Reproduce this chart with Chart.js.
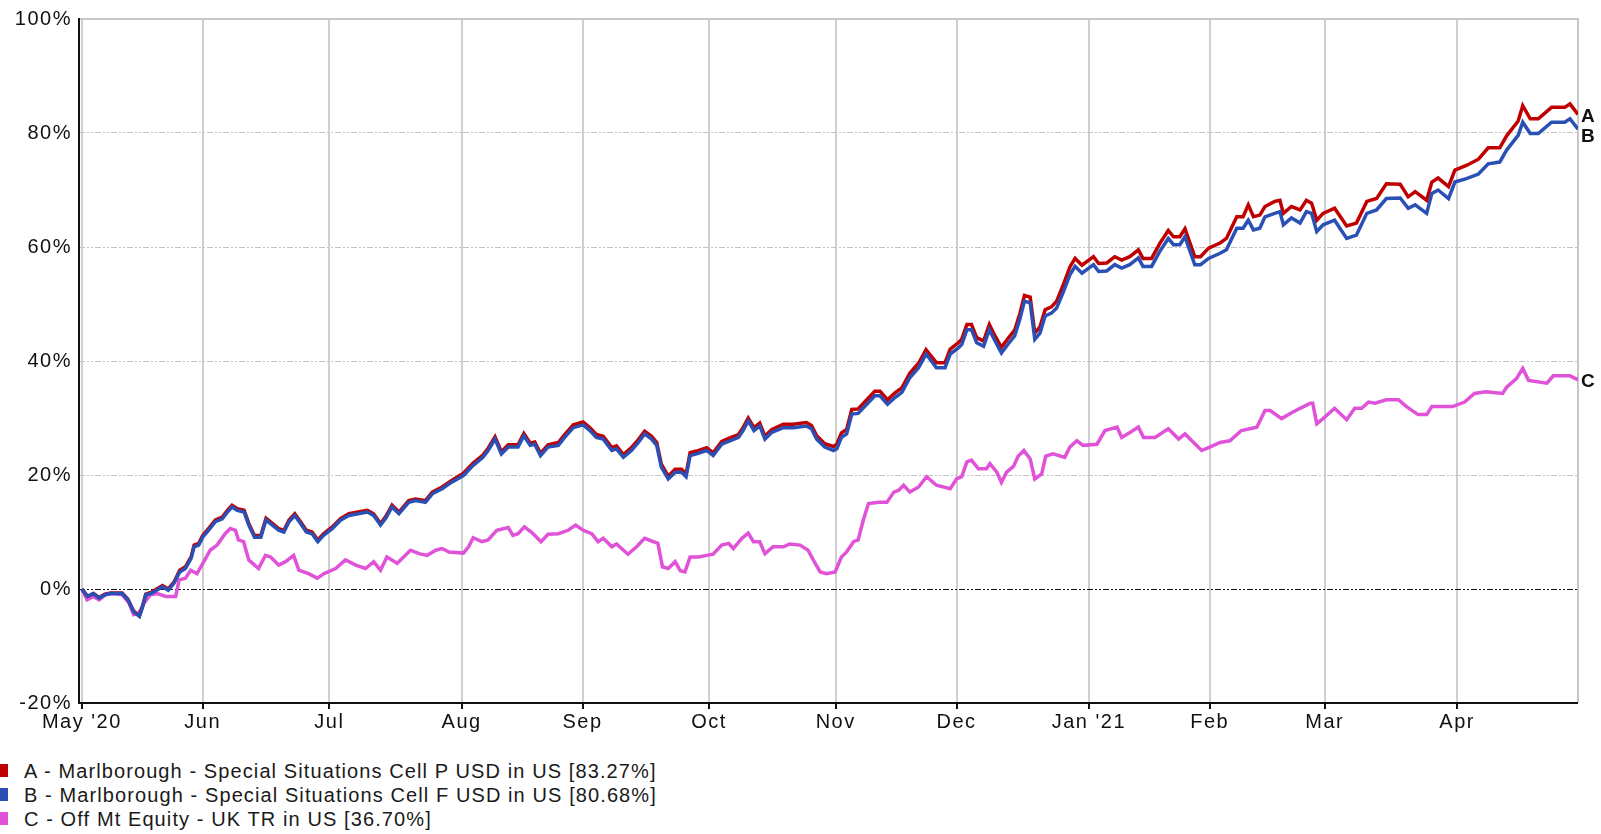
<!DOCTYPE html>
<html>
<head>
<meta charset="utf-8">
<title>Marlborough Special Situations</title>
<script src="https://cdn.jsdelivr.net/npm/chart.js@4.4.0/dist/chart.umd.min.js"></script>
<style>
  html, body { margin: 0; padding: 0; background: #fff; }
  #wrap { position: relative; width: 1601px; height: 834px; overflow: hidden; }
  #chart { position: absolute; left: 0; top: 0; }
  .legend { position: absolute; left: 0; height: 22px; width: 900px; font: 20px "Liberation Sans", Arial, sans-serif; line-height: 22px; letter-spacing: 1.1px; color: #1a1a1a; white-space: nowrap; }
  .legend i { position: absolute; left: -5px; top: 4px; width: 13px; height: 13px; }
  .legend span { position: absolute; left: 24px; top: 0; }
</style>
</head>
<body>
<div id="wrap">
  <canvas id="chart" width="1601" height="740"></canvas>
  <div class="legend" style="top:760px"><i style="background:#c00000"></i><span>A - Marlborough - Special Situations Cell P USD in US [83.27%]</span></div>
  <div class="legend" style="top:784px"><i style="background:#2a50b6"></i><span>B - Marlborough - Special Situations Cell F USD in US [80.68%]</span></div>
  <div class="legend" style="top:808px"><i style="background:#e052d8"></i><span>C - Off Mt Equity - UK TR in US [36.70%]</span></div>
</div>
<script>
// x is the trading-day (weekday) index from 1 May 2020 to 30 Apr 2021
const tickPos = [0, 21, 43, 66, 87, 109, 131, 152, 175, 196, 216, 239];
const tickLabels = ["May '20", "Jun", "Jul", "Aug", "Sep", "Oct", "Nov", "Dec", "Jan '21", "Feb", "Mar", "Apr"];
const seriesTags = ["A", "B", "C"];

// A and B share the same x positions
const abX = [
  0, 1, 2, 3, 4, 5, 7, 8, 9, 10, 10.5, 11.1, 12, 13, 14, 15, 16, 17, 18, 19,
  19.5, 20.3, 21, 22, 23.2, 24.4, 25.3, 26.1, 27, 28.2, 29, 30, 31.1, 32, 33.1, 34.2, 35.1, 36, 37, 38,
  39, 40, 41, 42, 43.5, 45, 46.4, 48, 49.6, 50.7, 51.9, 52.8, 53.9, 55.1, 56.8, 58, 59.7, 60.9, 62.6, 64.2,
  66.3, 68, 69.7, 70.6, 71.8, 72.9, 74.1, 75.8, 76.8, 77.9, 78.7, 79.7, 81, 82.8, 83.9, 85.4, 87.1, 88.3, 89.4, 90.6,
  92.1, 92.9, 94.1, 95.5, 96.7, 97.8, 99, 99.9, 100.7, 101.9, 103.1, 104.2, 105, 105.7, 106.8, 108.6, 109.7, 111.2, 112.6, 114.1,
  114.9, 115.8, 116.8, 117.8, 118.7, 119.9, 121.9, 123.6, 125.9, 126.8, 127.7, 129.1, 130.6,
  131.2, 132, 132.9, 133.8, 134.9, 136.4, 137.8, 138.7, 140, 141.3, 142.5, 143.9, 145.4, 146.7, 147.4, 148.5, 150, 150.9, 152.3, 152.9,
  153.8, 154.6, 155.5, 156.7, 157.7, 158.7, 159.8, 160.9, 162.1, 163, 163.8, 164.8, 165.6, 166.5, 167.4, 168.5, 169.4, 170.6, 171.7, 172.6,
  173.8, 175.8, 176.7, 178.1, 179.5, 180.7, 182.1, 183.6, 184.4, 185.9, 187.3, 188.8, 189.7, 190.8, 191.7, 192.6, 193.4, 194.4, 195.8,
  197.8, 198.9, 200.7, 201.8, 202.7, 203.6, 204.7, 205.6, 207.3, 208.2, 208.8, 210.2, 211.7, 212.8, 213.7, 214.6, 215.7, 217.7, 219.8, 221.5,
  223.3, 225, 226.7, 229.1, 230.5, 231.7, 233.7, 234.6, 235.7, 237.5, 238.6, 240.6, 242.7, 244.4, 246.4, 247.6, 249.6, 250.4, 251.7, 253.1,
  255.4, 257.7, 258.6, 260
];
const aVals = [
  0, -1.3, -0.8, -1.5, -0.9, -0.7, -0.7, -1.8, -3.9, -4.7, -3.2, -0.9, -0.6, 0, 0.6, 0, 1.2, 3.3, 3.9, 5.7,
  7.7, 8.0, 9.4, 10.6, 12.1, 12.6, 13.8, 14.7, 14.1, 13.8, 11.5, 9.4, 9.4, 12.4, 11.5, 10.6, 10.3, 12.1, 13.2, 11.8,
  10.3, 10.0, 8.6, 9.7, 10.9, 12.4, 13.2, 13.5, 13.8, 13.2, 11.5, 12.7, 14.7, 13.5, 15.5, 15.8, 15.5, 17.0, 17.9, 19.0,
  20.3, 22.1, 23.5, 24.7, 26.7, 24.1, 25.3, 25.3, 27.3, 25.6, 25.8, 23.8, 25.3, 25.7, 27.1, 28.8, 29.3, 28.3, 27.1, 26.8,
  24.8, 25.1, 23.6, 24.8, 26.2, 27.7, 26.8, 25.7, 21.9, 19.8, 21.0, 21.0, 20.2, 23.9, 24.2, 24.8, 23.9, 25.9, 26.5, 27.1,
  28.3, 30.0, 28.3, 29.1, 26.8, 28.0, 28.9, 28.9, 29.2, 28.7, 26.9, 25.5, 25.0,
  25.4, 27.4, 28.0, 31.5, 31.6, 33.2, 34.7, 34.7, 33.2, 34.4, 35.3, 37.9, 39.6, 42.0, 41.1, 39.7, 39.7, 42.1, 43.2, 43.8,
  46.4, 46.4, 44.1, 43.5, 46.4, 44.4, 42.4, 43.9, 45.4, 48.3, 51.5, 51.2, 44.9, 46.0, 49.0, 49.5, 50.5, 53.5, 56.5, 58.0,
  56.8, 58.3, 57.1, 57.2, 58.3, 57.7, 58.3, 59.5, 58.0, 58.0, 60.6, 62.9, 61.8, 61.8, 63.2, 60.6, 58.3, 58.3, 59.8,
  60.7, 61.5, 65.3, 65.3, 67.4, 65.3, 65.6, 67.1, 68.0, 68.2, 65.9, 67.1, 66.5, 68.2, 67.7, 64.7, 65.9, 66.8, 63.7, 64.2,
  68.0, 68.5, 71.1, 71.0, 68.8, 69.7, 68.2, 71.4, 72.1, 70.6, 73.5, 74.3, 75.4, 77.4, 77.4, 79.5, 82.1, 84.8, 82.5, 82.5,
  84.5, 84.5, 85.1, 83.27
];
const bVals = [
  0, -1.3, -0.8, -1.6, -1.0, -0.8, -0.8, -1.9, -4.0, -4.8, -3.3, -1.0, -0.8, -0.2, 0.4, -0.2, 1.0, 3.0, 3.6, 5.4,
  7.4, 7.7, 9.1, 10.3, 11.8, 12.3, 13.5, 14.4, 13.8, 13.5, 11.2, 9.1, 9.1, 12.1, 11.2, 10.3, 10.0, 11.8, 12.9, 11.5,
  10.0, 9.7, 8.3, 9.4, 10.6, 12.1, 12.9, 13.2, 13.5, 12.9, 11.2, 12.4, 14.4, 13.2, 15.2, 15.5, 15.2, 16.7, 17.6, 18.7,
  19.9, 21.7, 23.1, 24.3, 26.3, 23.7, 24.9, 24.9, 26.9, 25.2, 25.4, 23.4, 24.9, 25.2, 26.6, 28.3, 28.8, 27.8, 26.6, 26.3,
  24.3, 24.6, 23.1, 24.3, 25.7, 27.2, 26.3, 25.2, 21.4, 19.3, 20.5, 20.5, 19.7, 23.4, 23.7, 24.3, 23.4, 25.4, 26.0, 26.6,
  27.8, 29.5, 27.8, 28.6, 26.3, 27.5, 28.3, 28.3, 28.6, 28.1, 26.3, 24.9, 24.3,
  24.6, 26.6, 27.2, 30.7, 30.8, 32.4, 33.9, 33.9, 32.4, 33.6, 34.5, 37.1, 38.8, 41.2, 40.3, 38.8, 38.8, 41.2, 42.3, 42.9,
  45.5, 45.5, 43.2, 42.6, 45.5, 43.5, 41.4, 42.9, 44.4, 47.3, 50.5, 50.2, 43.8, 44.9, 47.9, 48.4, 49.3, 52.2, 55.1, 56.6,
  55.4, 56.9, 55.7, 55.8, 56.9, 56.3, 56.9, 58.1, 56.6, 56.6, 59.2, 61.5, 60.4, 60.4, 61.8, 59.2, 56.9, 56.9, 58.0,
  58.9, 59.5, 63.3, 63.3, 64.7, 63.0, 63.3, 65.3, 65.9, 66.2, 63.9, 65.1, 64.2, 66.2, 65.9, 62.7, 63.9, 64.7, 61.5, 62.1,
  65.9, 66.5, 68.5, 68.6, 66.8, 67.4, 65.9, 69.4, 70.0, 68.5, 71.4, 72.0, 72.8, 74.6, 74.9, 77.0, 79.6, 81.9, 79.9, 79.9,
  81.9, 81.9, 82.5, 80.68
];

const cX = [
  0, 0.9, 2, 3, 4.1, 5.3, 7, 8.2, 9, 9.9, 10.8, 11.9, 13.1, 14.6, 16.3, 16.9, 18, 18.9, 20, 21.2,
  22.3, 23.5, 24.9, 25.8, 26.7, 27.2, 28.1, 29, 30.7, 31.9, 32.8, 34.2, 35.4, 36.8, 37.7, 39.4, 40.9, 42.1, 44.1, 45.8,
  47.6, 49.3, 50.7, 51.9, 53, 54.8, 57.1, 58.6, 60, 61.5, 62.6, 63.8,
  66.3, 67.2, 68, 69.5, 70.6, 72.1, 74.1, 74.9, 75.8, 76.9, 78.1, 79.8, 81, 82.8, 84.5, 85.8, 87.1, 88.6, 89.7, 90.6,
  92.1, 92.9, 94.9, 96.4, 97.8, 99.3, 100.1, 100.9, 101.9, 103.1, 104, 104.8, 105.7, 107.2, 108.6, 109.7, 111.2, 112.4, 113.2, 114.7,
  115.8, 116.7, 117.8, 118.7, 120.1, 121.9, 123, 124.8, 126.2, 127.1, 128.3, 129.4, 130.9,
  132, 132.9, 134.1, 134.9, 135.8, 136.7, 138.5, 139.9, 141.1, 141.9, 142.8, 143.9, 145.4, 146.8, 148.5, 150.9, 152, 152.9, 153.8, 154.6,
  155.8, 157.2, 157.8, 159, 159.8, 160.7, 161.9, 162.7, 163.7, 164.8, 165.6, 166.8, 167.5, 168.8, 170.8, 171.7, 172.9, 174, 176.4, 177.8,
  179.9, 180.7, 182.2, 183.6, 184.5, 186.5, 188.8, 190.6, 191.7, 193.2, 194.6,
  196, 197.8, 199.5, 201.5, 204.2, 205.6, 206.5, 208.5, 210, 211.7, 213.5, 213.9, 214.6, 215.7, 217.7, 219.8, 221.2, 222.4, 223.6, 224.7,
  226.7, 228.8, 230.2, 232.2, 233.7, 234.6, 238.2, 240.3, 242, 244, 246.9, 247.6, 249.3, 250.4, 251.4, 254.6, 255.7, 258.6, 260
];
const cVals = [
  0, -1.9, -1.3, -1.9, -1.0, -0.8, -1.0, -2.5, -4.5, -4.2, -2.5, -1.0, -0.8, -1.3, -1.3, 1.6, 1.9, 3.3, 2.7, 4.8,
  6.8, 7.7, 9.7, 10.6, 10.3, 8.6, 8.3, 5.1, 3.6, 5.9, 5.6, 4.2, 4.8, 5.9, 3.3, 2.7, 1.9, 2.7, 3.6, 5.1,
  4.2, 3.6, 4.8, 3.3, 5.6, 4.5, 6.8, 6.2, 5.9, 6.8, 7.1, 6.5,
  6.3, 7.4, 9.0, 8.3, 8.6, 10.3, 10.8, 9.4, 9.7, 10.9, 10.0, 8.3, 9.6, 9.7, 10.3, 11.2, 10.3, 9.7, 8.3, 8.9,
  7.4, 7.9, 6.1, 7.4, 8.9, 8.3, 8.0, 3.9, 3.6, 4.8, 3.2, 3.0, 5.6, 5.6, 5.9, 6.1, 7.7, 8.0, 7.1, 8.9,
  9.8, 8.3, 8.3, 6.2, 7.4, 7.4, 7.9, 7.7, 6.8, 5.1, 3.0, 2.7, 3.0,
  5.6, 6.5, 8.3, 8.6, 12.1, 15.0, 15.2, 15.2, 17.0, 17.3, 18.2, 17.0, 17.9, 19.7, 18.2, 17.6, 19.3, 19.7, 22.3, 22.6,
  21.1, 21.1, 22.0, 20.5, 18.7, 20.5, 21.5, 23.3, 24.3, 22.8, 19.3, 20.2, 23.3, 23.7, 23.1, 24.9, 26.0, 25.2, 25.4, 27.8,
  28.4, 26.6, 27.5, 28.4, 26.6, 26.6, 28.1, 26.3, 27.2, 25.7, 24.3,
  24.9, 25.7, 26.0, 27.8, 28.4, 31.3, 31.3, 29.9, 30.8, 31.7, 32.6, 32.6, 29.0, 29.9, 31.7, 29.7, 31.7, 31.7, 32.8, 32.6,
  33.2, 33.2, 32.0, 30.6, 30.6, 32.0, 32.0, 32.8, 34.3, 34.6, 34.3, 35.4, 36.9, 38.7, 36.6, 36.1, 37.4, 37.4, 36.70
];

const FONT = '"Liberation Sans", Arial, sans-serif';

// the reference's text is a little wider than Liberation Sans
const spacing = {
  id: 'spacing',
  beforeUpdate(chart) { chart.ctx.letterSpacing = '1.5px'; },
  beforeDraw(chart) { chart.ctx.letterSpacing = '1.5px'; }
};

// frame: black left/bottom axes, light grey top/right edges
const frame = {
  id: 'frame',
  beforeDatasetsDraw(chart) {
    const { ctx, chartArea: a } = chart;
    ctx.save();
    ctx.lineWidth = 2;
    ctx.strokeStyle = '#c8c8c8';
    ctx.beginPath();
    ctx.moveTo(a.left, a.top); ctx.lineTo(a.right, a.top); ctx.lineTo(a.right, a.bottom);
    ctx.stroke();
    ctx.strokeStyle = '#111';
    ctx.beginPath();
    ctx.moveTo(a.left, a.top - 1); ctx.lineTo(a.left, a.bottom); ctx.lineTo(a.right, a.bottom);
    ctx.stroke();
    ctx.restore();
  }
};

// A / B / C tags at the end of each line
const endLabels = {
  id: 'endLabels',
  afterDatasetsDraw(chart) {
    const { ctx, chartArea: a } = chart;
    const tags = chart.data.datasets.map((ds, i) => {
      const pts = chart.getDatasetMeta(i).data;
      return { y: pts[pts.length - 1].y, text: seriesTags[i] };
    });
    tags.sort((p, q) => p.y - q.y);
    for (let i = 1; i < tags.length; i++) {
      if (tags[i].y - tags[i - 1].y < 20) tags[i].y = tags[i - 1].y + 20;
    }
    ctx.save();
    ctx.font = 'bold 19px ' + FONT;
    ctx.fillStyle = '#111';
    ctx.textBaseline = 'middle';
    tags.forEach(t => ctx.fillText(t.text, a.right + 3, t.y + 2));
    ctx.restore();
  }
};

const toPoints = (xs, ys) => xs.map((x, i) => ({ x: x, y: ys[i] }));

new Chart(document.getElementById('chart'), {
  type: 'line',
  data: {
    datasets: [
      { label: 'A', data: toPoints(abX, aVals), borderColor: '#c00000', order: 1 },
      { label: 'B', data: toPoints(abX, bVals), borderColor: '#2a50b6', order: 0 },
      { label: 'C', data: toPoints(cX, cVals), borderColor: '#e052d8', order: 2 }
    ]
  },
  options: {
    responsive: false,
    animation: false,
    devicePixelRatio: 1,
    layout: { padding: { left: 0, right: 23, top: 16, bottom: 0 } },
    elements: {
      line: { borderWidth: 3.5, tension: 0, fill: false },
      point: { radius: 0, hoverRadius: 0 }
    },
    plugins: { legend: { display: false }, tooltip: { enabled: false } },
    scales: {
      x: {
        type: 'linear',
        min: -0.5,
        max: 260,
        afterBuildTicks: s => { s.ticks = tickPos.map(v => ({ value: v })); },
        afterFit: s => { s.height = 37; },
        ticks: {
          autoSkip: false,
          maxRotation: 0,
          padding: 1,
          color: '#111',
          font: { family: FONT, size: 20 },
          callback: (v, i) => tickLabels[i]
        },
        grid: { color: '#cfcfcf', lineWidth: 2, tickColor: '#111', tickLength: 6, tickWidth: 2 },
        border: { display: false }
      },
      y: {
        min: -20,
        max: 100,
        afterFit: s => { s.width = 79; },
        ticks: {
          stepSize: 20,
          padding: 7,
          color: '#111',
          font: { family: FONT, size: 20 },
          callback: v => v + '%'
        },
        grid: {
          drawTicks: false,
          lineWidth: 1,
          color: c => (c.tick && c.tick.value === 0) ? '#111' : '#c4c4c4'
        },
        border: { display: false, dash: [6, 2, 2, 2, 2, 2] }
      }
    }
  },
  plugins: [spacing, frame, endLabels]
});
</script>
</body>
</html>
